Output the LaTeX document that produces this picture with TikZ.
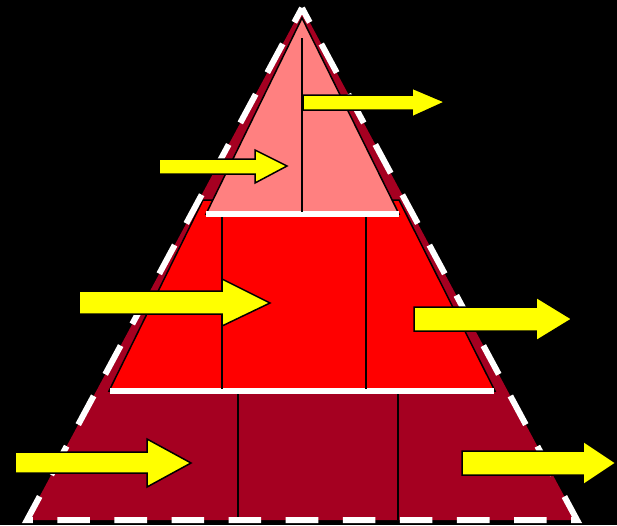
\documentclass[tikz,border=0pt]{standalone}
\usepackage{tikz}

\definecolor{darkbase}{HTML}{A50021}
\definecolor{midred}{HTML}{FF0000}
\definecolor{toppink}{HTML}{FF8080}
\definecolor{arrowyellow}{HTML}{FFFF00}

\begin{document}
\begin{tikzpicture}[x=1pt,y=-1pt,
    outline/.style={draw=black,line width=1.5pt,line join=miter},
    yarrow/.style={fill=arrowyellow,draw=black,line width=1.5pt,line join=miter},
    divider/.style={draw=white,line width=6pt},
    stem/.style={draw=black,line width=1.5pt}]

  % background
  \fill[black] (0,0) rectangle (617,525);
  \useasboundingbox (0,0) rectangle (617,525);

  % outer triangle: base layer
  \fill[darkbase] (302,8) -- (577,520) -- (27,520) -- cycle;

  % middle layer
  \filldraw[fill=midred,outline] (203,200) -- (399,200) -- (495,391) -- (109,391) -- cycle;

  % top layer
  \filldraw[fill=toppink,outline] (302,18) -- (399,214) -- (206,214) -- cycle;

  % white dividers
  \draw[divider] (206,214) -- (399,214);
  \draw[divider] (110,391) -- (494,391);

  % vertical lines
  \draw[stem] (302,38) -- (302,212);
  \draw[stem] (222,217) -- (222,389);
  \draw[stem] (366,217) -- (366,389);
  \draw[stem] (238,394) -- (238,520);
  \draw[stem] (398,394) -- (398,520);

  % dashed outline of the pyramid
  \draw[white,line width=6pt,dash pattern=on 32.6pt off 24.48pt,dash phase=16.3pt,line join=miter]
    (302,8) -- (577,520) -- (27,520) -- cycle;

  % arrows
  \filldraw[yarrow] (303,95) -- (412,95) -- (412,88) -- (445,102) -- (412,117) -- (412,110) -- (303,110) -- cycle;
  \filldraw[yarrow] (159,159) -- (255,159) -- (255,150) -- (287,166) -- (255,183) -- (255,174) -- (159,174) -- cycle;
  \filldraw[yarrow] (79,291) -- (222,291) -- (222,279) -- (270,303) -- (222,326) -- (222,314) -- (79,314) -- cycle;
  \filldraw[yarrow] (414,307) -- (536,307) -- (536,297) -- (572,319) -- (536,341) -- (536,331) -- (414,331) -- cycle;
  \filldraw[yarrow] (15,452) -- (147,452) -- (147,439) -- (191,463) -- (147,487) -- (147,473) -- (15,473) -- cycle;
  \filldraw[yarrow] (462,451) -- (583,451) -- (583,441) -- (616,463) -- (583,485) -- (583,475) -- (462,475) -- cycle;
\end{tikzpicture}
\end{document}
